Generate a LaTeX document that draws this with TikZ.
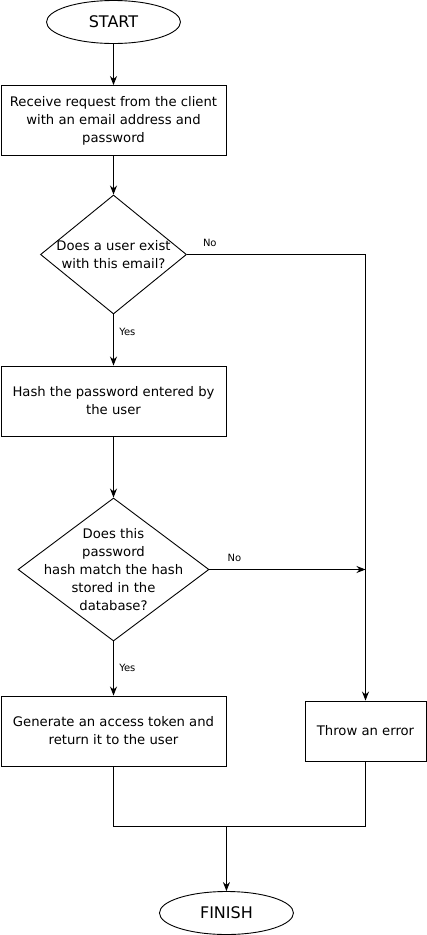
\documentclass[tikz,border=0pt]{standalone}
\usepackage{fontspec}
\setmainfont{DejaVu Sans}
\usetikzlibrary{shapes.geometric, arrows.meta, positioning}

\begin{document}
\begin{tikzpicture}[x=1pt, y=-1pt, node distance=100pt, on grid, auto,
   line width=0.9pt, >={Stealth[length=9pt,width=7pt]},
   every node/.style={font=\fontsize{13.2}{18}\selectfont},
   terminal/.style={ellipse, draw, minimum width=134pt, minimum height=43pt, inner sep=0pt, font=\fontsize{16}{18}\selectfont},
   process/.style={rectangle, draw, minimum width=225pt, minimum height=70pt, align=center},
   decision/.style={diamond, draw, align=center},
   answer/.style={font=\fontsize{10}{12}\selectfont}]
   \useasboundingbox (0,0) rectangle (426,935);

   % 定义节点
   \node[terminal] (start) at (113.5,22) {START};
   \node[process] (request) [below=98.5pt of start] {Receive request from the client\\with an email address and\\password};
   \node[decision, minimum width=146pt, minimum height=119pt, inner sep=-10pt] (exists) [below=134pt of request] {Does a user exist\\with this email?};
   \node[process] (hash) [below=146.5pt of exists] {Hash the password entered by\\the user};
   \node[decision, minimum width=191pt, minimum height=143pt, inner sep=-30pt] (match) [below=168.5pt of hash] {Does this\\password\\hash match the hash\\stored in the\\database?};
   \node[process] (token) [below=161.5pt of match] {Generate an access token and\\return it to the user};
   \node[process, minimum width=121pt, minimum height=60pt] (error) [right=252pt of token] {Throw an error};
   \coordinate (join) at ([yshift=-95pt]token.east);
   \node[terminal] (finish) at ([yshift=-182pt]token.east) {FINISH};
   \coordinate (hit) at (error.north |- match.east);

   % 绘制箭头
   \path[->]
   (start)   edge (request)
   (request) edge (exists)
   (exists)  edge node[answer, pos=0.35, right=2pt] {Yes} (hash)
   (hash)    edge (match)
   (match)   edge node[answer, pos=0.49, right=2pt] {Yes} (token)
             edge node[answer, pos=0.16, above=4pt] {No} (hit)
   (join)    edge (finish);

   % 错误分支与汇合
   \draw[->] (exists.east) -| node[answer, pos=0.064, above=4pt] {No} (error.north);
   \draw (token.south) |- (join) -| (error.south);
\end{tikzpicture}
\end{document}
